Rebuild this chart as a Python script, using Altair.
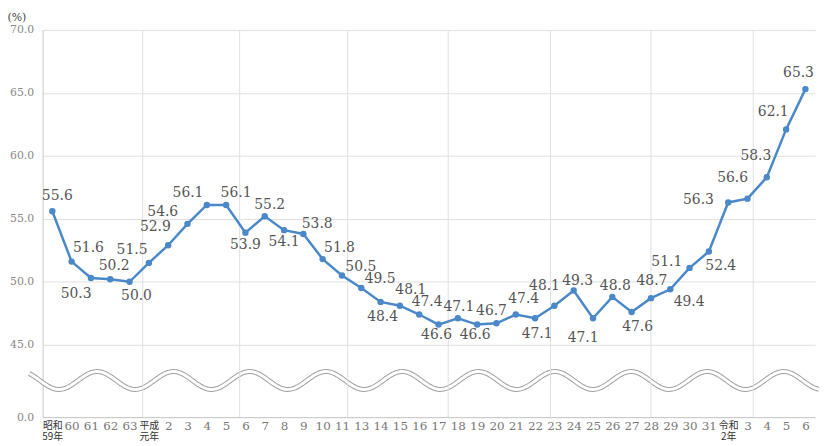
import altair as alt
import pandas as pd

# ---- data ----
x_labels = ["昭和\n59年", "60", "61", "62", "63", "平成\n元年", "2", "3", "4", "5",
            "6", "7", "8", "9", "10", "11", "13", "14", "15", "16",
            "17", "18", "19", "20", "21", "22", "23", "24", "25", "26",
            "27", "28", "29", "30", "31", "令和\n2年", "3", "4", "5", "6"]
values = [55.6, 51.6, 50.3, 50.2, 50.0, 51.5, 52.9, 54.6, 56.1, 56.1,
          53.9, 55.2, 54.1, 53.8, 51.8, 50.5, 49.5, 48.4, 48.1, 47.4,
          46.6, 47.1, 46.6, 46.7, 47.4, 47.1, 48.1, 49.3, 47.1, 48.8,
          47.6, 48.7, 49.4, 51.1, 52.4, 56.3, 56.6, 58.3, 62.1, 65.3]
y_ticks = [45.0, 50.0, 55.0, 60.0, 65.0, 70.0]
y_floor = 39.25          # broken-axis floor, shown as "0.0"
grid_x = [4.68, 9.7, 15.3, 20.5, 25.8, 31.0, 36.3]   # vertical grid positions (category units)

# label placement (style): pixel offsets of each value label from its point
label_offsets = [(5, -15), (17, -14), (-15, 16), (4, -13), (7, 14), (-17, -13), (-13, -18),
                 (-25, -12), (-19, -12), (10, -12), (0, 13), (5, -11), (0, 12), (14, -10),
                 (17, -11), (19, -9), (19, -9), (2, 15), (11, -16), (8, -13), (-2, 11),
                 (1, -11), (-2, 11), (-5, -12), (8, -16), (2, 16), (-10, -20), (4, -10),
                 (-10, 20), (3, -11), (6, 15), (1, -17), (19, 13), (-23, -6), (12, 15),
                 (-30, -2), (-15, -21), (-11, -21), (-13, -18), (-7, -16)]

W, H = 780, 391
BLUE = "#4a88c8"
NUMFONT = "DejaVu Serif"
CJKFONT = "Noto Sans CJK JP"

df = pd.DataFrame({"i": list(range(len(values))), "v": values})
df["lab"] = df["v"].map(lambda v: f"{v:.1f}")

def js_label(s):
    parts = s.split("\n")
    if len(parts) == 1:
        return f"'{s}'"
    return "[" + ",".join(f"'{p}'" for p in parts) + "]"

label_arr = "[" + ",".join(js_label(s) for s in x_labels) + "]"
multi_idx = [k for k, s in enumerate(x_labels) if "\n" in s]
multi_test = "||".join(f"datum.value=={k}" for k in multi_idx)

x_scale = alt.Scale(domain=[-0.5, len(values) - 0.5], nice=False, zero=False)
y_scale = alt.Scale(domain=[y_floor, 70], nice=False, zero=False)

x_axis = alt.Axis(
    values=list(range(len(values))),
    labelExpr=f"{label_arr}[datum.value]",
    grid=False, ticks=False, domainColor="#c8c8c8",
    labelFont={"condition": {"test": multi_test, "value": CJKFONT}, "value": NUMFONT},
    labelFontSize={"condition": {"test": multi_test, "value": 10}, "value": 12},
    labelColor={"condition": {"test": multi_test, "value": "#333333"}, "value": "#777777"},
    labelLineHeight=11.5, labelPadding=3, labelOverlap=False, labelFlush=False,
    labelBaseline="top", title=None,
)
y_axis = alt.Axis(
    values=[y_floor] + y_ticks,
    labelExpr="datum.value < 40 ? '0.0' : format(datum.value, '.1f')",
    ticks=False, domainColor="#c8c8c8", gridColor="#e0e0e0",
    labelFont=NUMFONT, labelFontSize=11, labelColor="#888888", labelPadding=9,
    labelOverlap=False,
    title="(%)", titleAngle=0, titleX=-36, titleY=-13, titleAlign="left",
    titleBaseline="middle", titleFontWeight="normal", titleFontSize=11,
    titleColor="#444444", titleFont=NUMFONT,
)

def X(field):
    return alt.X(field, type="quantitative", scale=x_scale, axis=x_axis)

def Y(field):
    return alt.Y(field, type="quantitative", scale=y_scale, axis=y_axis)

base = alt.Chart(df)

vgrid = alt.Chart(pd.DataFrame({"g": grid_x})).mark_rule(color="#e0e0e0", strokeWidth=1).encode(
    x=X("g"), y=alt.value(0), y2=alt.value(H))

wave_data = alt.sequence(-1.2, 39.7, 0.05, as_="t")
wave_base = alt.Chart(wave_data).transform_calculate(
    wy="42.16 + 0.71*cos(2*PI*(datum.t - 2.32)/3.95)")
wave_outer = wave_base.mark_line(color="#a0a0a0", strokeWidth=5).encode(x=X("t"), y=Y("wy"))
wave_inner = wave_base.mark_line(color="white", strokeWidth=3).encode(x=X("t"), y=Y("wy"))

line = base.mark_line(color=BLUE, strokeWidth=2.5).encode(x=X("i"), y=Y("v"))
pts = base.mark_circle(color=BLUE, size=42, opacity=1).encode(x=X("i"), y=Y("v"))

texts = []
for k, (dx, dy) in enumerate(label_offsets):
    texts.append(
        base.transform_filter(f"datum.i == {k}").mark_text(
            dx=dx, dy=dy, font=NUMFONT, fontSize=14, color="#555555",
            align="center", baseline="middle").encode(
            x=X("i"), y=Y("v"), text="lab:N"))

chart = alt.layer(wave_outer, wave_inner, vgrid, line, pts, *texts).properties(
    width=W, height=H,
    autosize=alt.AutoSizeParams(type="none"),
    padding={"left": 35, "top": 20, "right": 8, "bottom": 26},
).configure_view(stroke=None)

chart.save("out.html", embed_options={"renderer": "svg", "actions": False})
